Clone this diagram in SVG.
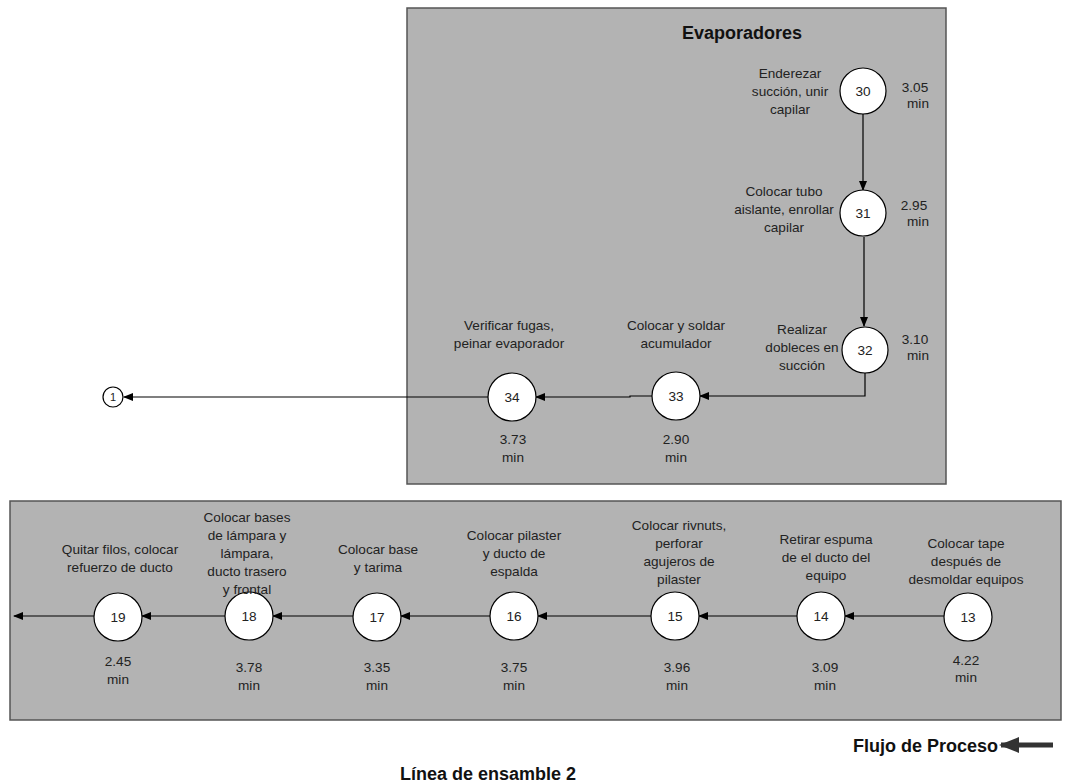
<svg xmlns="http://www.w3.org/2000/svg" width="1070" height="784" viewBox="0 0 1070 784">
<defs>
<marker id="ah" markerWidth="10" markerHeight="8" refX="9" refY="4" orient="auto" markerUnits="userSpaceOnUse"><path d="M0,0 L10,4 L0,8 Z" fill="#000"/></marker>
<marker id="big" markerWidth="20" markerHeight="16" refX="18" refY="8" orient="auto" markerUnits="userSpaceOnUse"><path d="M0,0 L20,8 L0,16 Z" fill="#333"/></marker>
</defs>
<style>
.panel{fill:#b3b3b3;stroke:#555;stroke-width:1.5}
.node{fill:#fff;stroke:#000;stroke-width:1.2}
.t{font-family:"Liberation Sans",Arial,sans-serif;font-size:13.6px;fill:#222;text-anchor:middle}
.b{font-family:"Liberation Sans",Arial,sans-serif;font-size:18px;font-weight:bold;fill:#111}
.c{stroke:#000;stroke-width:1.2;fill:none;marker-end:url(#ah)}
</style>
<rect width="1070" height="784" fill="#fff"/>
<rect class="panel" x="407" y="8" width="539" height="476"/>
<rect class="panel" x="10" y="501" width="1051" height="219"/>
<text class="b" x="742" y="39" text-anchor="middle">Evaporadores</text>
<g id="connectors">
<line class="c" x1="863" y1="114" x2="863" y2="190"/>
<line class="c" x1="864" y1="237" x2="864" y2="326"/>
<polyline class="c" points="865,373 865,396 700,396"/>
<polyline class="c" points="652,396 630,396 630,397 536,397"/>
<line class="c" x1="488" y1="397" x2="124" y2="397"/>
<line class="c" x1="944" y1="616" x2="845" y2="616"/>
<line class="c" x1="797" y1="616" x2="699" y2="616"/>
<line class="c" x1="651" y1="616" x2="538" y2="616"/>
<line class="c" x1="490" y1="616" x2="401" y2="616"/>
<line class="c" x1="353" y1="616" x2="273" y2="616"/>
<line class="c" x1="225" y1="616" x2="142" y2="616"/>
<line class="c" x1="94" y1="616" x2="14" y2="616"/>
</g>
<g id="n30"><circle class="node" cx="863" cy="91" r="23"/><text class="t" x="863" y="96">30</text>
<text class="t" x="790" y="78">Enderezar</text><text class="t" x="790" y="96">succión, unir</text><text class="t" x="790" y="114">capilar</text>
<text class="t" x="915" y="92">3.05</text><text class="t" x="918" y="108">min</text></g>
<g id="n31"><circle class="node" cx="863" cy="213" r="23"/><text class="t" x="863" y="218">31</text>
<text class="t" x="784" y="196">Colocar tubo</text><text class="t" x="784" y="214">aislante, enrollar</text><text class="t" x="784" y="232">capilar</text>
<text class="t" x="914" y="210">2.95</text><text class="t" x="918" y="226">min</text></g>
<g id="n32"><circle class="node" cx="865" cy="350" r="23"/><text class="t" x="865" y="355">32</text>
<text class="t" x="802" y="334">Realizar</text><text class="t" x="802" y="352">dobleces en</text><text class="t" x="802" y="370">succión</text>
<text class="t" x="915" y="344">3.10</text><text class="t" x="918" y="360">min</text></g>
<g id="n33"><circle class="node" cx="676" cy="396" r="24"/><text class="t" x="676" y="401">33</text>
<text class="t" x="676" y="330">Colocar y soldar</text><text class="t" x="676" y="348">acumulador</text>
<text class="t" x="676" y="444">2.90</text><text class="t" x="676" y="462">min</text></g>
<g id="n34"><circle class="node" cx="512" cy="397" r="24"/><text class="t" x="512" y="402">34</text>
<text class="t" x="509" y="330">Verificar fugas,</text><text class="t" x="509" y="348">peinar evaporador</text>
<text class="t" x="513" y="444">3.73</text><text class="t" x="513" y="462">min</text></g>
<g id="n1"><circle class="node" cx="113" cy="397" r="10"/><text class="t" x="113" y="401" style="font-size:11px">1</text></g>
<g id="n13"><circle class="node" cx="968" cy="617" r="24"/><text class="t" x="968" y="622">13</text>
<text class="t" x="966" y="548">Colocar tape</text><text class="t" x="966" y="566">después de</text><text class="t" x="966" y="584">desmoldar equipos</text>
<text class="t" x="966" y="665">4.22</text><text class="t" x="966" y="682">min</text></g>
<g id="n14"><circle class="node" cx="821" cy="616" r="24"/><text class="t" x="821" y="621">14</text>
<text class="t" x="826" y="544">Retirar espuma</text><text class="t" x="826" y="562">de el ducto del</text><text class="t" x="826" y="580">equipo</text>
<text class="t" x="825" y="672">3.09</text><text class="t" x="825" y="690">min</text></g>
<g id="n15"><circle class="node" cx="675" cy="616" r="24"/><text class="t" x="675" y="621">15</text>
<text class="t" x="679" y="530">Colocar rivnuts,</text><text class="t" x="679" y="548">perforar</text><text class="t" x="679" y="566">agujeros de</text><text class="t" x="679" y="584">pilaster</text>
<text class="t" x="677" y="672">3.96</text><text class="t" x="677" y="690">min</text></g>
<g id="n16"><circle class="node" cx="514" cy="616" r="24"/><text class="t" x="514" y="621">16</text>
<text class="t" x="514" y="540">Colocar pilaster</text><text class="t" x="514" y="558">y ducto de</text><text class="t" x="514" y="576">espalda</text>
<text class="t" x="514" y="672">3.75</text><text class="t" x="514" y="690">min</text></g>
<g id="n17"><circle class="node" cx="377" cy="617" r="24"/><text class="t" x="377" y="622">17</text>
<text class="t" x="378" y="554">Colocar base</text><text class="t" x="378" y="572">y tarima</text>
<text class="t" x="377" y="672">3.35</text><text class="t" x="377" y="690">min</text></g>
<g id="n18"><circle class="node" cx="249" cy="616" r="24"/><text class="t" x="249" y="621">18</text>
<text class="t" x="247" y="522">Colocar bases</text><text class="t" x="247" y="540">de lámpara y</text><text class="t" x="247" y="558">lámpara,</text><text class="t" x="247" y="576">ducto trasero</text><text class="t" x="247" y="594">y frontal</text>
<text class="t" x="249" y="672">3.78</text><text class="t" x="249" y="690">min</text></g>
<g id="n19"><circle class="node" cx="118" cy="617" r="24"/><text class="t" x="118" y="622">19</text>
<text class="t" x="120" y="554">Quitar filos, colocar</text><text class="t" x="120" y="572">refuerzo de ducto</text>
<text class="t" x="118" y="666">2.45</text><text class="t" x="118" y="684">min</text></g>
<g id="legend">
<text class="b" x="998" y="752" text-anchor="end">Flujo de Proceso</text>
<line x1="1053" y1="745" x2="1001" y2="745" stroke="#333" stroke-width="5" marker-end="url(#big)"/>
<text class="b" x="488" y="780" text-anchor="middle">Línea de ensamble 2</text>
</g>
</svg>
